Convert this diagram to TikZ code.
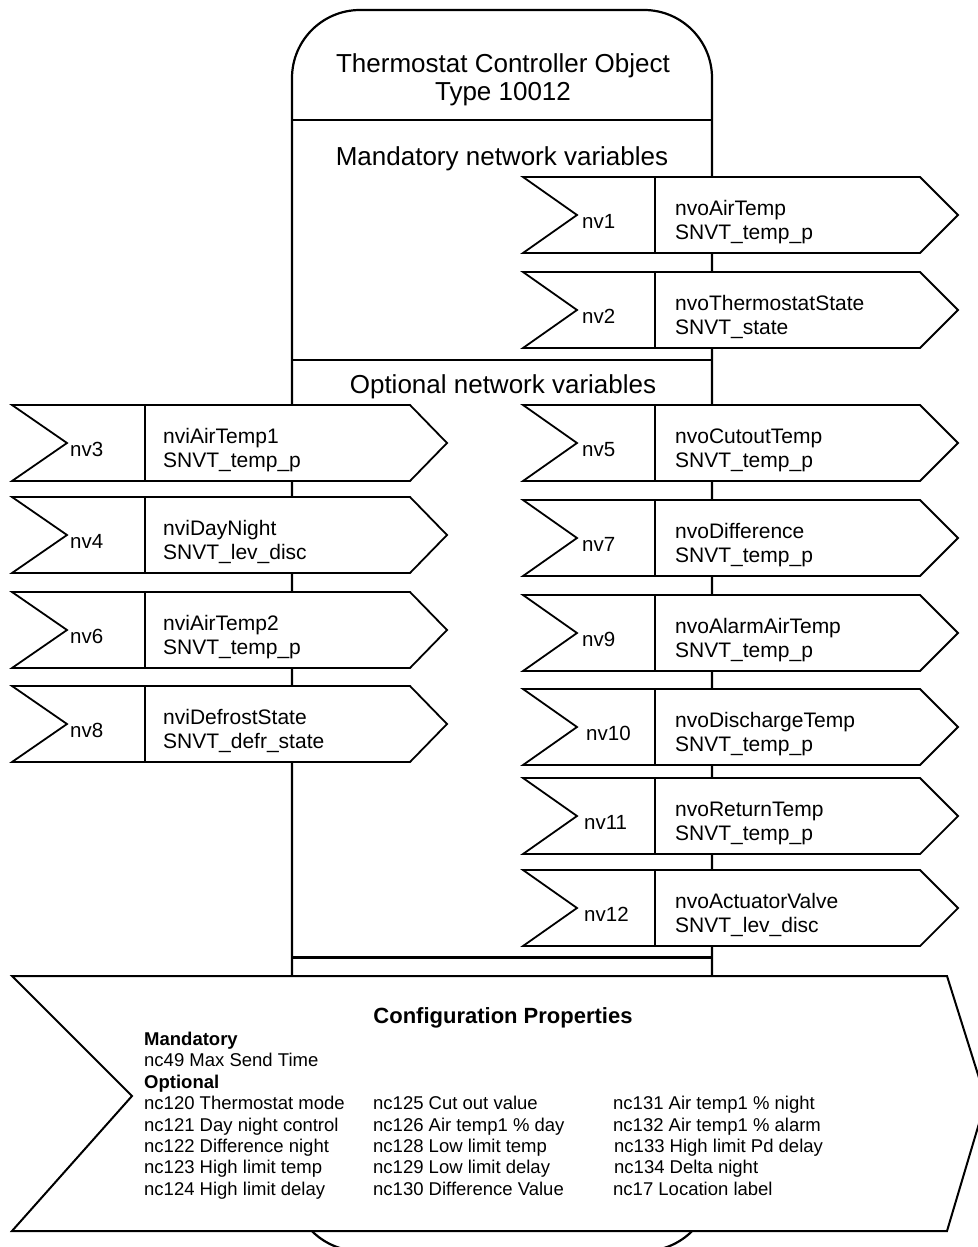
\documentclass[tikz,border=0pt]{standalone}
\usepackage{fontspec}
\setmainfont{Liberation Sans}
\newcommand\nvRight[6]{% #1 top y, #2 label x, #3 label, #4 line1, #5 line2, #6 name
  \draw[nvshape] (523,#1) -- (920,#1) -- (958,#1+38) -- (920,#1+76) -- (523,#1+76) -- (577,#1+38) -- cycle;
  \draw[divider] (655,#1) -- (655,#1+76);
  \node[nvlbl] (#6l) at (#2,#1+51) {#3};
  \node[nvtxt] (#6a) at (675,#1+38) {#4};
  \node[nvtxt] (#6b) at (675,#1+62) {#5};
}
\newcommand\nvLeft[5]{% #1 top y, #2 label, #3 line1, #4 line2, #5 name
  \draw[nvshape] (12,#1) -- (410,#1) -- (447,#1+38) -- (410,#1+76) -- (12,#1+76) -- (67,#1+38) -- cycle;
  \draw[divider] (145,#1) -- (145,#1+76);
  \node[nvlbl] (#5l) at (70,#1+51) {#2};
  \node[nvtxt] (#5a) at (163,#1+38) {#3};
  \node[nvtxt] (#5b) at (163,#1+62) {#4};
}
\begin{document}
\begin{tikzpicture}[x=1pt,y=-1pt,
  body/.style={line width=2.2pt},
  nvshape/.style={draw, fill=white, line width=1.8pt, line join=miter},
  divider/.style={line width=1.4pt},
  nvtxt/.style={anchor=base west, inner sep=0pt, font=\fontsize{21}{24}\selectfont},
  nvlbl/.style={anchor=base west, inner sep=0pt, font=\fontsize{20.5}{24}\selectfont},
  head/.style={anchor=base, inner sep=0pt, font=\fontsize{26}{29}\selectfont},
  cfg/.style={anchor=base west, inner sep=0pt, font=\fontsize{18.5}{21}\selectfont},
  cfgb/.style={cfg, font=\fontsize{18.5}{21}\selectfont\bfseries},
]
\useasboundingbox (0,0) rectangle (977,1247);
\fill[white] (0,0) rectangle (977,1247);

% main object body
\draw[body, rounded corners=68pt] (292,1251) -- (292,10) -- (712,10) -- (712,1251) -- cycle;
\draw[body] (292,120) -- (712,120);
\draw[body] (292,360) -- (712,360);
\draw[line width=3pt] (292,957) -- (712,957);

\node[head] (title1) at (503,72) {Thermostat Controller Object};
\node[head] (title2) at (503,100) {Type 10012};
\node[head] (mand) at (502,165) {Mandatory network variables};
\node[head] (opt) at (503,393) {Optional network variables};

% mandatory
\nvRight{177}{582}{nv1}{nvoAirTemp}{SNVT\_temp\_p}{nvA}
\nvRight{272}{582}{nv2}{nvoThermostatState}{SNVT\_state}{nvB}
% optional right
\nvRight{405}{582}{nv5}{nvoCutoutTemp}{SNVT\_temp\_p}{nvE}
\nvRight{500}{582}{nv7}{nvoDifference}{SNVT\_temp\_p}{nvG}
\nvRight{595}{582}{nv9}{nvoAlarmAirTemp}{SNVT\_temp\_p}{nvI}
\nvRight{689}{586}{nv10}{nvoDischargeTemp}{SNVT\_temp\_p}{nvJ}
\nvRight{778}{584}{nv11}{nvoReturnTemp}{SNVT\_temp\_p}{nvK}
\nvRight{870}{584}{nv12}{nvoActuatorValve}{SNVT\_lev\_disc}{nvL}
% optional left
\nvLeft{405}{nv3}{nviAirTemp1}{SNVT\_temp\_p}{nvC}
\nvLeft{497}{nv4}{nviDayNight}{SNVT\_lev\_disc}{nvD}
\nvLeft{592}{nv6}{nviAirTemp2}{SNVT\_temp\_p}{nvF}
\nvLeft{686}{nv8}{nviDefrostState}{SNVT\_defr\_state}{nvH}

% configuration properties
\draw[nvshape, line width=2pt] (12,976) -- (947,976) -- (986,1100) -- (947,1231) -- (12,1231) -- (132,1096) -- cycle;
\node[anchor=base, inner sep=0pt, font=\fontsize{22}{24}\selectfont\bfseries] (cfgt) at (503,1023) {Configuration Properties};
\node[cfgb] (cm) at (144,1045) {Mandatory};
\node[cfg] (c49) at (144,1066) {nc49 Max Send Time};
\node[cfgb] (co) at (144,1088) {Optional};
\node[cfg] (c120) at (144,1109) {nc120 Thermostat mode};
\node[cfg] (c121) at (144,1131) {nc121 Day night control};
\node[cfg] (c122) at (144,1152) {nc122 Difference night};
\node[cfg] (c123) at (144,1173) {nc123 High limit temp};
\node[cfg] (c124) at (144,1195) {nc124 High limit delay};
\node[cfg] (c125) at (373,1109) {nc125 Cut out value};
\node[cfg] (c126) at (373,1131) {nc126 Air temp1 \% day};
\node[cfg] (c128) at (373,1152) {nc128 Low limit temp};
\node[cfg] (c129) at (373,1173) {nc129 Low limit delay};
\node[cfg] (c130) at (373,1195) {nc130 Difference Value};
\node[cfg] (c131) at (613,1109) {nc131 Air temp1 \% night};
\node[cfg] (c132) at (613,1131) {nc132 Air temp1 \% alarm};
\node[cfg] (c133) at (614,1152) {nc133 High limit Pd delay};
\node[cfg] (c134) at (614,1173) {nc134 Delta night};
\node[cfg] (c17) at (613,1195) {nc17 Location label};
\end{tikzpicture}
\end{document}
